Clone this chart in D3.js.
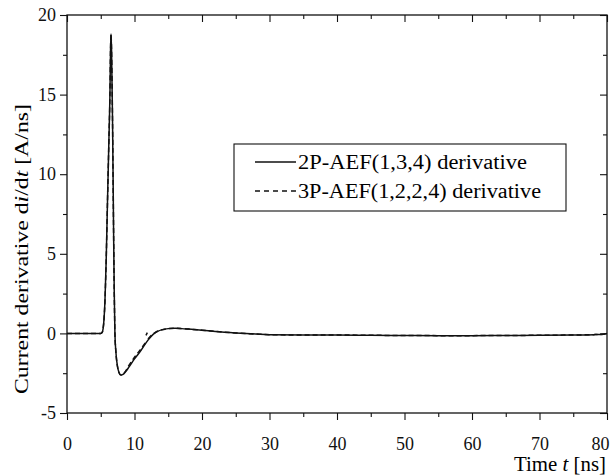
<!DOCTYPE html>
<html lang="en">
  <head>
    <meta charset="utf-8">
    <script src="https://cdnjs.cloudflare.com/ajax/libs/d3/7.8.5/d3.min.js"></script>
    <title>Current derivative</title>
    <style>
      body { margin: 0; background: #fff; }
    </style>
  </head>
  <body>
    <script>

    var serif = '"Liberation Serif", "Times New Roman", serif';

    // time axis [ns]
    var tSolid = [0, 5.0, 5.2, 5.35, 5.5, 5.62, 5.8, 6.0, 6.2, 6.36, 6.45, 6.52, 6.6, 6.75, 6.9, 7.0, 7.1, 7.25, 7.45, 7.7, 8.0, 8.3,
                  8.7, 9.2, 10.0, 11.0, 11.5, 12.0, 12.5, 13.0, 13.5, 14.0, 15.0, 16.0, 17.0, 18.0, 20.0, 22.0, 25.0, 28.0,
                  30.0, 35.0, 40.0, 45.0, 50.0, 55.0, 60.0, 65.0, 70.0, 75.0, 78.0, 79.5, 80.0];
    // 2P-AEF(1,3,4) derivative [A/ns]
    var vSolid = [0, 0, 0.05, 0.3, 1.0, 2.0, 4.5, 8.3, 12.0, 15.0, 17.8, 18.8, 17.8, 13.2, 6.5, 2.6, 0.0, -1.2, -2.0, -2.45, -2.62, -2.58,
                  -2.4, -2.1, -1.6, -1.05, -0.72, -0.42, -0.17, 0.02, 0.14, 0.22, 0.3, 0.32, 0.3, 0.27, 0.2, 0.12, 0.03, -0.04,
                  -0.08, -0.1, -0.1, -0.12, -0.13, -0.14, -0.14, -0.13, -0.12, -0.1, -0.08, -0.05, 0.0];

    // 3P-AEF(1,2,2,4) derivative, null = break in the curve
    var tDash = [0, 5.0, 5.2, 5.35, 5.5, 5.62, 5.8, 6.0, 6.2, 6.36, 6.45, 6.52, 6.6, 6.75, 6.9, 7.0, 7.1, 7.25, 7.45, 7.7, 8.0, 8.3,
                 8.7, 9.2, 10.0, 11.0, 11.6, 11.6, 11.7, 11.9, 11.9, 12.0, 12.5, 13.0, 13.5, 14.0, 15.0, 16.0, 17.0, 18.0, 20.0, 22.0, 25.0, 28.0,
                 30.0, 35.0, 40.0, 45.0, 50.0, 55.0, 60.0, 65.0, 70.0, 75.0, 78.0, 79.5, 80.0];
    var vDash = [0, 0, 0.05, 0.3, 1.0, 2.0, 4.5, 8.3, 12.0, 15.0, 17.8, 18.8, 17.8, 13.2, 6.5, 2.6, 0.0, -1.2, -2.0, -2.45, -2.62, -2.58,
                 -2.35, -2.0, -1.5, -0.95, -0.6, null, -0.12, 0.05, null, -0.35, -0.12, 0.04, 0.15, 0.22, 0.3, 0.32, 0.3, 0.27, 0.2, 0.12, 0.03, -0.04,
                 -0.08, -0.1, -0.1, -0.12, -0.13, -0.14, -0.14, -0.13, -0.12, -0.1, -0.08, -0.05, 0.0];

    var xTicks = [0, 10, 20, 30, 40, 50, 60, 70, 80];
    var yTicks = [-5, 0, 5, 10, 15, 20];
    var seriesNames = ["2P-AEF(1,3,4) derivative", "3P-AEF(1,2,2,4) derivative"];

    var W = 611, H = 476;
    var margin = {top: 15, left: 67, bottom: 63, right: 4};
    var width = W - margin.left - margin.right,
        height = H - margin.top - margin.bottom;

    var x = d3.scaleLinear().domain([0, 80]).range([0, width]);
    var y = d3.scaleLinear().domain([-5, 20]).range([height, 0]);

    var svg = d3.select("body")
      .append("svg")
        .attr("width", W)
        .attr("height", H)
      .append("g")
        .attr("transform", "translate(" + [margin.left, margin.top] + ")");

    var minorX = d3.range(5, 80, 10), minorY = d3.range(-2.5, 20, 5);

    function styleAxis(g) {
      g.attr("font-family", null).attr("font-size", null);
      g.select(".domain").remove();
      g.selectAll("line").attr("stroke", "#111").attr("stroke-width", 1.1);
      g.selectAll("text")
        .style("font-family", serif)
        .style("font-size", "18px").attr("fill", "#111");
    }

    // bottom
    svg.append("g").attr("transform", "translate(0," + height + ")")
      .call(d3.axisBottom(x).tickValues(xTicks).tickSize(7).tickPadding(17).tickFormat(String))
      .call(styleAxis)
      .call(function(g){ g.selectAll(".tick text").filter(function(d){ return d === 80; }).attr("text-anchor", "end").attr("dx", 2); });
    svg.append("g").attr("transform", "translate(0," + height + ")")
      .call(d3.axisBottom(x).tickValues(minorX).tickSize(4).tickFormat(""))
      .call(styleAxis);
    // top
    svg.append("g")
      .call(d3.axisBottom(x).tickValues(xTicks).tickSize(7).tickFormat("")).call(styleAxis);
    svg.append("g")
      .call(d3.axisBottom(x).tickValues(minorX).tickSize(4).tickFormat("")).call(styleAxis);
    // left
    svg.append("g")
      .call(d3.axisLeft(y).tickValues(yTicks).tickSize(7).tickPadding(4).tickFormat(String))
      .call(styleAxis);
    svg.append("g")
      .call(d3.axisLeft(y).tickValues(minorY).tickSize(4).tickFormat("")).call(styleAxis);
    // right
    svg.append("g").attr("transform", "translate(" + width + ",0)")
      .call(d3.axisLeft(y).tickValues(yTicks).tickSize(7).tickFormat("")).call(styleAxis);
    svg.append("g").attr("transform", "translate(" + width + ",0)")
      .call(d3.axisLeft(y).tickValues(minorY).tickSize(4).tickFormat("")).call(styleAxis);

    // frame
    svg.append("rect")
      .attr("width", width).attr("height", height)
      .attr("fill", "none").attr("stroke", "#111").attr("stroke-width", 1.3);

    var line = d3.line()
      .defined(function(d){ return d[1] !== null; })
      .x(function(d){ return x(d[0]); })
      .y(function(d){ return y(d[1]); })
      .curve(d3.curveMonotoneX);

    svg.append("path")
      .datum(d3.zip(tSolid, vSolid))
      .attr("fill", "none").attr("stroke", "#111").attr("stroke-width", 1.5)
      .attr("d", line);

    svg.append("path")
      .datum(d3.zip(tDash, vDash))
      .attr("fill", "none").attr("stroke", "#111").attr("stroke-width", 1.5)
      .attr("stroke-dasharray", "5,3")
      .attr("d", line);

    // legend
    var lg = svg.append("g").attr("transform", "translate(" + (234 - margin.left) + "," + (144 - margin.top) + ")");
    lg.append("rect").attr("width", 332).attr("height", 67)
      .attr("fill", "#fff").attr("stroke", "#111").attr("stroke-width", 1.1);
    var lgLen = [229, 243];
    seriesNames.forEach(function(name, i) {
      var yy = 18 + i * 29;
      lg.append("line").attr("x1", 21).attr("x2", 62).attr("y1", yy).attr("y2", yy)
        .attr("stroke", "#111").attr("stroke-width", 1.3)
        .attr("stroke-dasharray", i === 1 ? "5,4" : null);
      lg.append("text").attr("x", 64).attr("y", yy).attr("dy", "0.35em")
        .style("font-family", serif).style("font-size", "20px")
        .attr("textLength", lgLen[i]).attr("lengthAdjust", "spacingAndGlyphs")
        .text(name);
    });

    // axis titles
    var xt = svg.append("text")
      .attr("x", width - 1).attr("y", height + 58)
      .attr("text-anchor", "end")
      .style("font-family", serif).style("font-size", "20px")
      .attr("textLength", 92).attr("lengthAdjust", "spacingAndGlyphs");
    xt.append("tspan").text("Time ");
    xt.append("tspan").style("font-style", "italic").text("t");
    xt.append("tspan").text(" [ns]");

    var yt = svg.append("text")
      .attr("transform", "translate(" + (-39) + "," + (249 - margin.top) + ") rotate(-90)")
      .attr("text-anchor", "middle")
      .style("font-family", serif).style("font-size", "19px")
      .attr("textLength", 290).attr("lengthAdjust", "spacingAndGlyphs");
    yt.append("tspan").text("Current derivative d");
    yt.append("tspan").style("font-style", "italic").text("i");
    yt.append("tspan").text("/d");
    yt.append("tspan").style("font-style", "italic").text("t");
    yt.append("tspan").text(" [A/ns]");

    </script>
  </body>
</html>
